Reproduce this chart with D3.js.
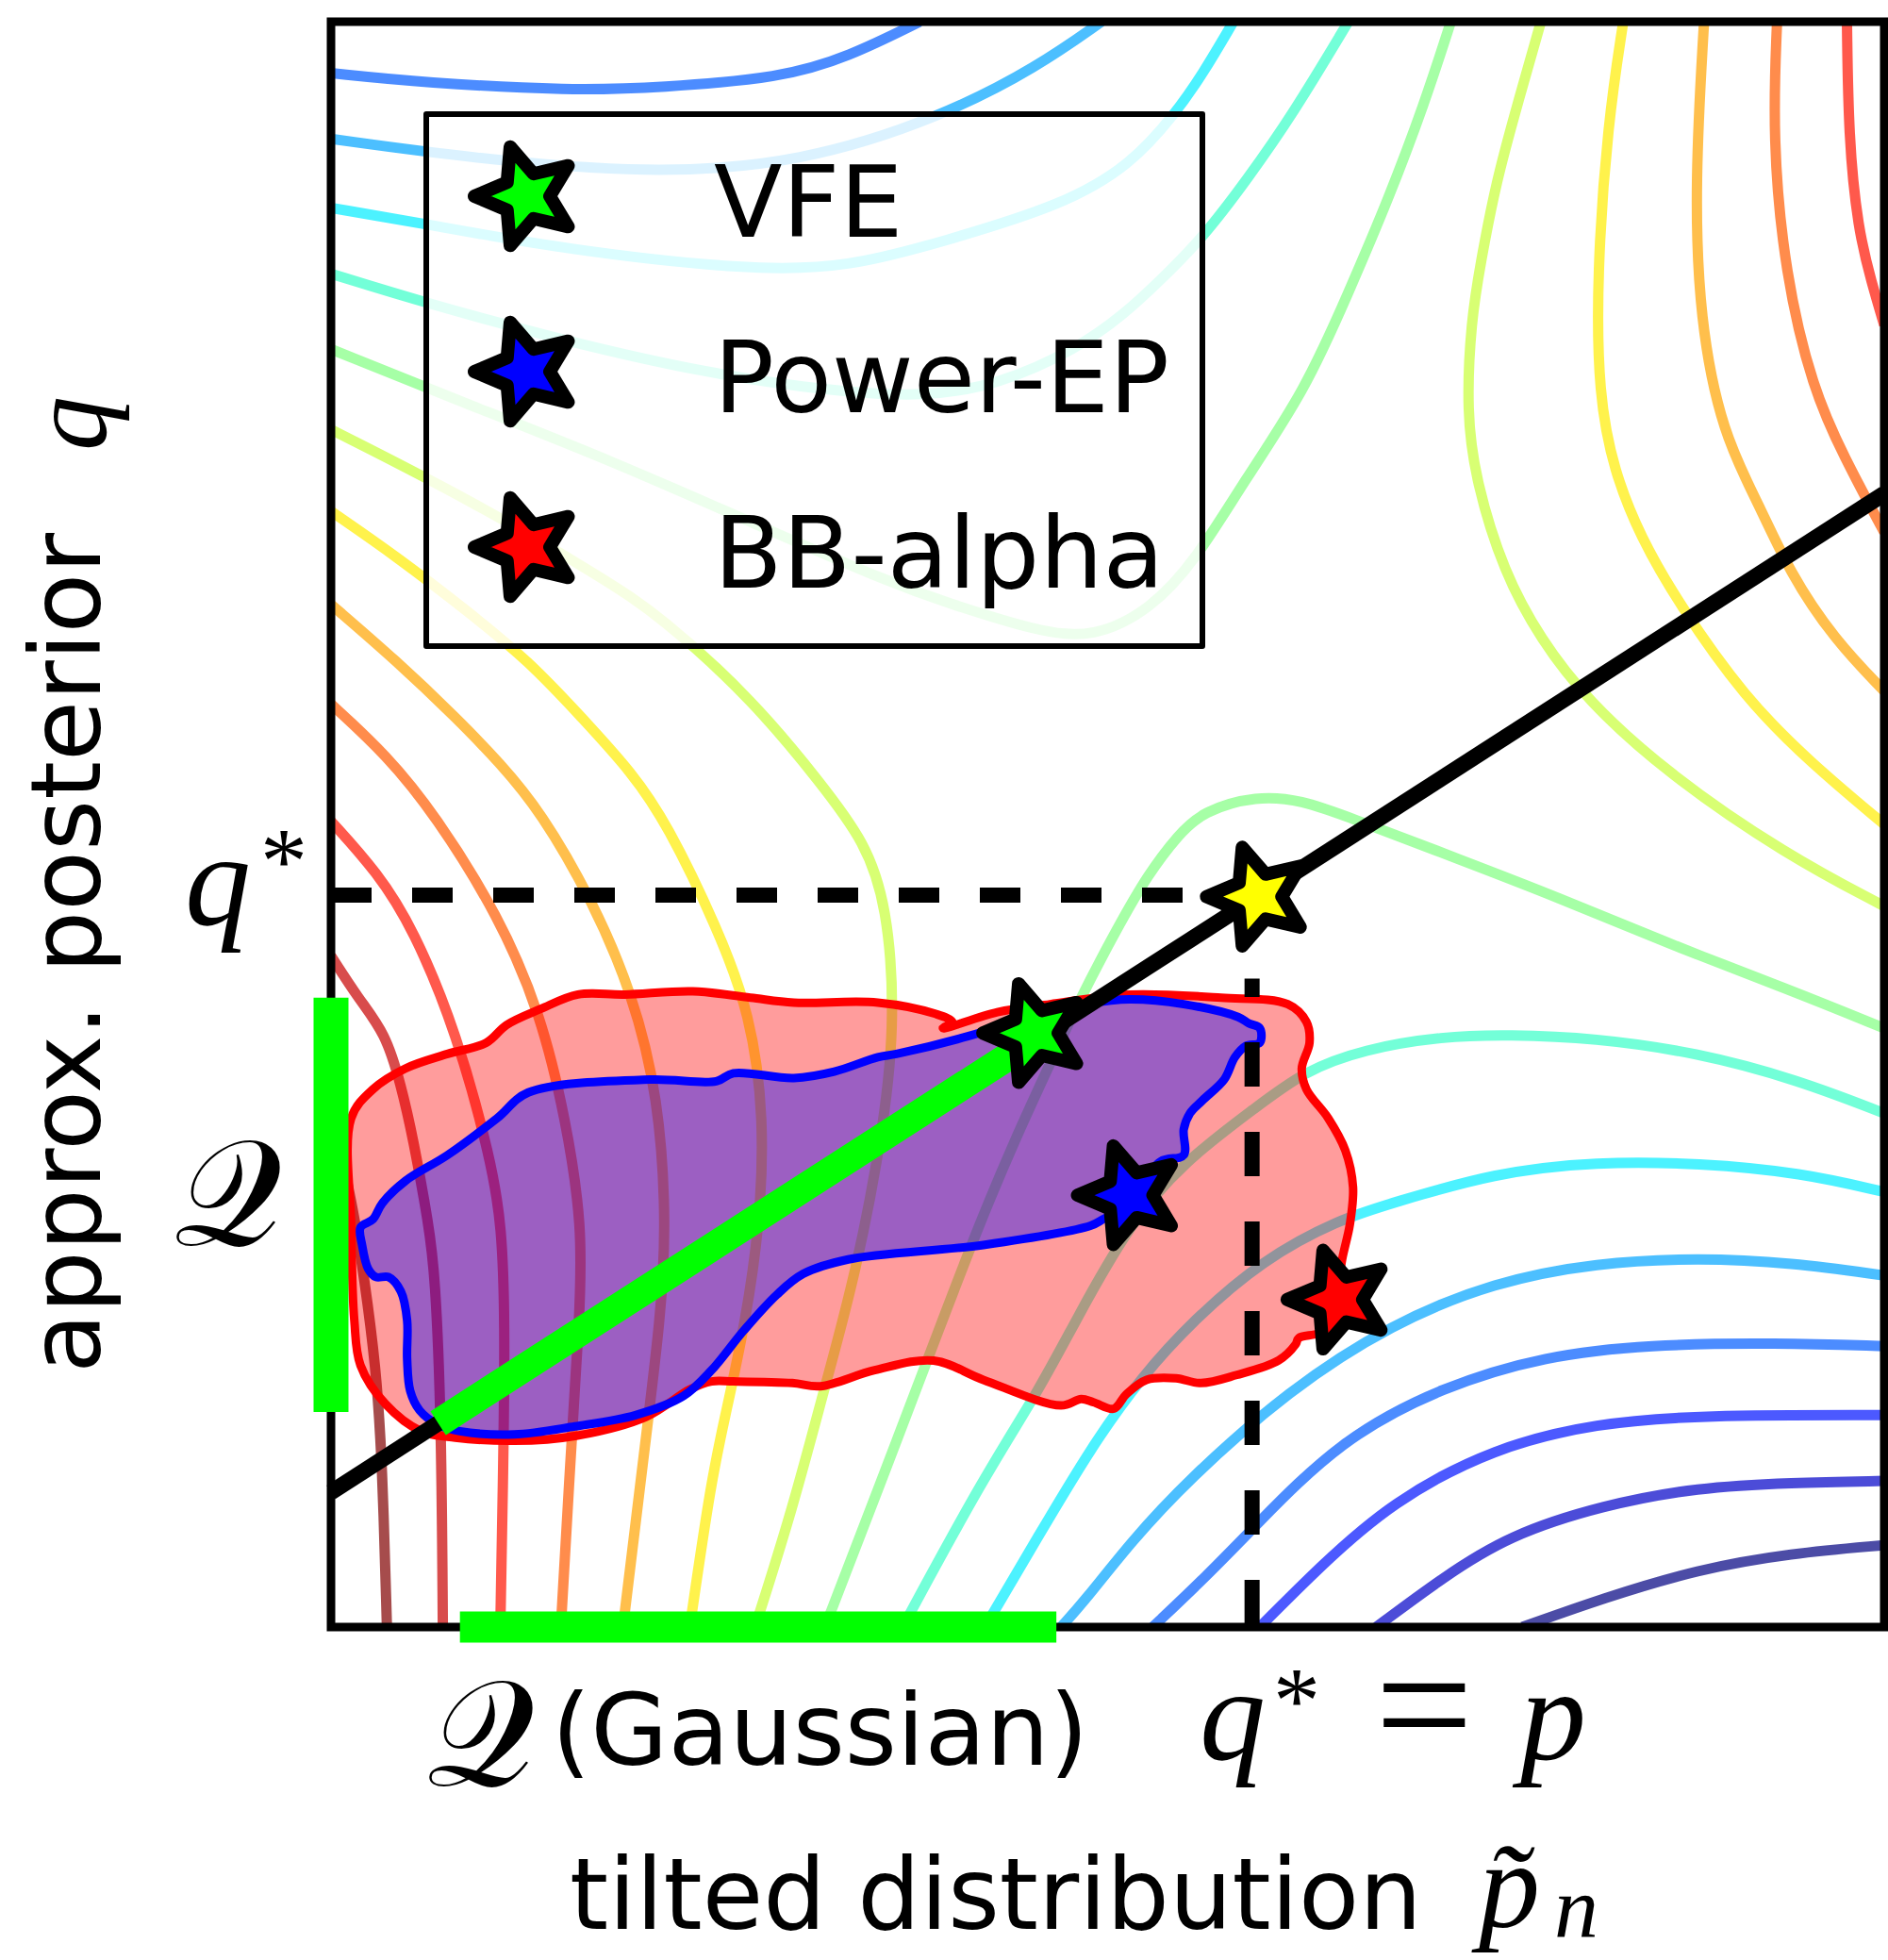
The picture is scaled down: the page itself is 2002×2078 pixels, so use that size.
<!DOCTYPE html>
<html><head><meta charset="utf-8">
<script src="https://cdn.jsdelivr.net/npm/d3@7"></script>
<style>body{margin:0;background:#fff}svg{display:block}</style>
</head><body>
<svg id="chart" width="2002" height="2078"></svg>
<script>
// ---------- data (plot units: 0..100 on both axes) ----------
const contourLevels = [0,1,2,3,4,5,6,7,8,9,10,11,12,13,14];

const c0  = [[76.7,0],[81.9,1.8],[88.0,3.6],[94.0,4.6],[100,5.1]];
const c1  = [[67.3,0],[71.6,3.1],[75.8,5.7],[81.9,7.6],[88.0,8.7],[94.0,9.0],[100,9.1]];
const c2  = [[59.8,0],[63.7,3.8],[68.3,7.8],[74.9,11.2],[81.5,12.7],[88.1,13.2],[100,13.2]];
const c3a = [[0,96.8],[6.0,96.2],[15.5,95.7],[21.2,95.9],[29.0,96.5],[33.3,97.8],[37.9,100]];
const c3b = [[52.9,0],[56.4,3.2],[59.4,6.2],[65.0,11.7],[71.6,15.0],[78.2,16.9],[84.8,17.6],[93.1,17.7],[100,17.5]];
const c4a = [[0,92.7],[9.0,91.5],[20.5,90.5],[30.3,91.2],[39.4,94.1],[45.5,97.2],[49.6,100]];
const c4b = [[47.0,0],[48.5,1.6],[51.5,5.3],[55.1,9.1],[61.7,14.8],[68.3,18.9],[74.9,21.5],[81.5,22.7],[88.1,23.0],[94.0,22.7],[100,21.9]];
const c5a = [[0,88.4],[6.1,87.4],[15.1,85.8],[27.1,84.5],[33.3,84.7],[39.4,86.3],[47.2,88.6],[51.5,91.1],[54.3,94.2],[56.1,96.7],[58.1,100]];
const c5b = [[42.1,0],[45.5,5.6],[49.0,11.3],[52.2,15.6],[55.5,19.1],[60.0,22.9],[64.9,25.4],[68.3,26.4],[74.9,28.3],[81.5,29.0],[88.1,28.9],[94.7,28.3],[100,27.1]];
const c6a = [[0,84.3],[6.0,82.5],[15.1,80.1],[24.2,78.1],[32.1,77.0],[38.2,76.6],[43.0,77.4],[48.0,79.6],[51.1,81.8],[53.4,83.9],[56.1,86.5],[59.0,90.2],[61.9,94.2],[65.5,100]];
const c6b = [[36.8,0],[42.0,9.3],[45.5,14.6],[48.0,19.2],[51.4,25.1],[54.9,29.0],[59.6,32.4],[62.6,34.6],[66.5,36.0],[71.6,36.8],[75.8,36.9],[81.3,36.7],[87.9,35.8],[94.4,34.1],[100,32.0]];
const c7a = [[0,79.6],[9.0,76.1],[18.2,72.6],[27.3,68.7],[36.4,64.9],[39.4,63.9],[45.5,62.0],[49.1,61.6],[52.8,63.4],[55.7,66.5],[58.8,71.4],[62.7,77.0],[65.5,83.1],[68.1,89.0],[70.4,94.9],[72.1,100]];
const c7b = [[31.8,0],[35.2,8.5],[39.4,19.2],[41.7,25.0],[44.0,30.3],[46.3,35.1],[48.2,39.1],[50.6,43.5],[52.6,46.9],[54.6,49.4],[56.1,50.8],[59.6,51.8],[62.5,51.5],[65.4,50.5],[72.7,47.8],[78.9,45.5],[86.0,42.6],[93.9,39.7],[100,37.3]];
const c8a = [[0,74.6],[9.0,70.2],[17.4,65.4],[21.2,63.0],[27.3,57.6],[31.5,52.6],[34.4,48.9],[35.8,44.9],[36.3,38.2],[35.7,31.7],[33.8,22.0],[31.8,15.0],[29.7,7.3],[27.3,0]];
const c8b = [[77.9,100],[76.4,94.9],[75.0,90.0],[74.0,84.9],[73.4,81.4],[73.1,75.7],[73.7,71.4],[75.5,65.7],[77.9,61.5],[80.8,57.8],[86.0,53.2],[93.7,48.1],[100,44.9]];
const c9a = [[0,69.5],[4.2,66.7],[8.9,63.2],[12.7,60.2],[16.2,56.6],[19.4,53.2],[21.6,50.1],[24.9,43.5],[27.0,38.2],[27.9,31.7],[27.6,25.0],[26.7,19.1],[25.4,13.2],[24.5,9.3],[23.1,0]];
const c9b = [[83.2,100],[82.2,93.7],[81.5,84.3],[81.6,76.7],[82.6,72.0],[84.3,67.9],[86.8,63.7],[91.0,57.9],[95.3,53.8],[100,50.0]];
const c10a = [[0,63.7],[4.2,60.2],[8.1,56.6],[10.9,53.8],[13.5,50.8],[16.8,45.3],[19.4,39.5],[21.1,33.0],[21.6,25.0],[21.2,19.1],[20.3,12.0],[18.8,0]];
const c10b = [[88.4,100],[87.8,90.0],[88.1,81.4],[89.6,74.3],[91.9,70.0],[93.9,65.7],[96.8,61.5],[100,58.3]];
const c11a = [[0,57.5],[3.6,54.3],[6.7,50.6],[10.8,44.3],[13.5,38.2],[15.1,31.7],[16.2,25.0],[16.0,19.1],[15.4,10.3],[14.8,0]];
const c11b = [[93.1,100],[92.8,92.8],[93.6,84.3],[95.4,77.1],[97.4,72.9],[100,68.2]];
const c12a = [[0,50.2],[3.0,47.0],[5.3,43.5],[8.1,37.0],[10.3,29.1],[11.0,25.0],[11.2,19.1],[11.1,10.3],[10.9,0]];
const c12b = [[97.6,100],[97.7,92.8],[98.3,87.1],[99.2,83.7],[100,81.1]];
const c13 = [[0,41.8],[1.8,39.1],[3.5,37.0],[4.5,33.8],[5.3,30.4],[6.3,25.0],[6.7,22.0],[7.1,13.2],[7.2,0]];
const c14 = [[0,32.0],[0.9,28.5],[1.6,25.0],[2.1,22.0],[2.9,16.2],[3.3,10.3],[3.6,0]];

const contourLines = [
  [0,c0],[1,c1],[2,c2],[3,c3a],[3,c3b],[4,c4a],[4,c4b],[5,c5a],[5,c5b],
  [6,c6a],[6,c6b],[7,c7a],[7,c7b],[8,c8a],[8,c8b],[9,c9a],[9,c9b],
  [10,c10a],[10,c10b],[11,c11a],[11,c11b],[12,c12a],[12,c12b],[13,c13],[14,c14]
];

const bbAlphaRegion = [[1.3,31.7],[2.7,33.5],[4.8,34.8],[7.5,35.7],[10.0,36.4],[11.3,37.5],[13.5,38.5],[15.9,39.4],[18.9,39.4],[23.3,39.6],[27.0,39.2],[29.8,38.9],[35.2,38.9],[38.9,38.2],[40.0,37.7],[39.4,37.3],[42.9,38.3],[46.3,38.8],[51.4,39.4],[57.3,39.2],[61.6,38.8],[62.8,37.7],[63.0,36.4],[62.5,34.8],[62.8,33.5],[64.2,31.7],[65.3,29.7],[65.8,27.4],[65.6,25.1],[65.1,22.9],[64.8,20.9],[64.3,18.8],[63.6,18.3],[62.3,18.0],[62.1,17.6],[61.0,16.6],[58.3,15.7],[56.0,15.2],[54.4,15.5],[52.5,15.4],[51.2,14.5],[50.4,13.6],[49.1,14.0],[48.3,14.2],[47.0,13.8],[42.0,15.4],[38.8,16.6],[35.0,16.0],[31.5,15.0],[29.7,15.2],[25.9,15.3],[24.5,15.3],[23.1,14.8],[20.3,13.1],[15.7,11.9],[11.8,11.6],[8.0,11.8],[5.8,12.2],[3.5,13.9],[1.9,16.3],[1.5,19.1],[1.3,25.0]];
const powerEPRegion = [[12.7,33.3],[10.7,31.7],[7.5,29.4],[4.8,27.8],[3.3,26.4],[2.7,25.4],[1.9,24.9],[2.0,23.8],[2.4,22.3],[2.9,21.8],[3.7,21.8],[4.5,20.9],[4.9,19.1],[4.9,16.7],[5.1,14.7],[5.7,13.5],[6.9,12.6],[8.3,12.2],[11.8,12.0],[15.7,12.5],[19.6,13.2],[22.7,14.4],[24.5,16.0],[26.6,18.5],[28.7,20.7],[30.4,22.0],[33.3,22.9],[42.0,23.8],[48.9,25.0],[49.7,25.4],[50.9,26.1],[53.4,29.0],[54.9,29.4],[54.9,31.0],[55.3,32.0],[56.1,32.8],[57.5,34.1],[58.2,35.5],[58.9,36.2],[59.8,36.4],[59.8,37.3],[59.1,37.6],[58.4,38.0],[54.9,38.8],[51.4,39.1],[48.5,38.8],[45.5,38.2],[41.0,36.8],[36.4,35.7],[35.2,35.5],[32.4,34.6],[29.8,34.2],[25.9,34.5],[24.8,34.0],[20.5,34.1]];

const methods = ["VFE","Power-EP","BB-alpha"];
const methodColors = ["#00ff00","#0000ff","#ff0000"];
const methodPoints = [[45.3,37.0],[51.4,26.9],[64.9,20.4]];
const optimumPoint = [59.7,45.5];
const manifoldLine = [[0,8.4],[100,70.6]];
const gaussianSegment = [[6.9,12.7],[45.3,36.6]];
const gaussianRangeX = [8.3,46.7];
const gaussianRangeY = [13.4,39.2];
const qStarLevelY = 45.6;   // horizontal dashed at q*
const qStarX = 59.3;        // vertical dashed at q* = p
const qStarVTop = 40.4;

// ---------- drawing ----------
const svg = d3.select("#chart");
svg.append("rect").attr("width",2002).attr("height",2078).attr("fill","#fff");
const L = 351, R = 1998, T = 23, B = 1725;
const x = d3.scaleLinear().domain([0,100]).range([L,R]);
const y = d3.scaleLinear().domain([0,100]).range([B,T]);

const jet = t => {
  const f = v => Math.max(0, Math.min(1, 1.5 - Math.abs(v)));
  return d3.rgb(255*f(4*t-3), 255*f(4*t-2), 255*f(4*t-1)).formatHex();
};
const levelT = d3.scaleLinear().domain([d3.min(contourLevels), d3.max(contourLevels)]).range([0,1]);

svg.append("clipPath").attr("id","plotclip").append("rect")
  .attr("x",L).attr("y",T).attr("width",R-L).attr("height",B-T);

const lineGen = d3.line().x(d=>x(d[0])).y(d=>y(d[1])).curve(d3.curveBasis);
const gC = svg.append("g").attr("clip-path","url(#plotclip)");
gC.selectAll("path.contour").data(contourLines).join("path")
  .attr("class","contour")
  .attr("d", d=>lineGen(d[1]))
  .attr("fill","none")
  .attr("stroke", d=>jet(levelT(d[0])))
  .attr("stroke-opacity",0.7)
  .attr("stroke-width",11);

const areaGen = d3.line().x(d=>x(d[0])).y(d=>y(d[1])).curve(d3.curveCatmullRomClosed.alpha(0.5));
const gR = svg.append("g").attr("clip-path","url(#plotclip)");
gR.append("path").attr("d", areaGen(bbAlphaRegion)).attr("fill","#ff0000").attr("fill-opacity",0.39).attr("stroke","none");
gR.append("path").attr("d", areaGen(powerEPRegion)).attr("fill","#0000ff").attr("fill-opacity",0.39).attr("stroke","none");
gR.append("path").attr("d", areaGen(bbAlphaRegion)).attr("fill","none").attr("stroke","#ff0000").attr("stroke-width",9).attr("stroke-linejoin","round");
gR.append("path").attr("d", areaGen(powerEPRegion)).attr("fill","none").attr("stroke","#0000ff").attr("stroke-width",9).attr("stroke-linejoin","round");

// manifold line and Gaussian family segment
const straight = d3.line().x(d=>x(d[0])).y(d=>y(d[1]));
svg.append("path").attr("d", straight(manifoldLine)).attr("stroke","#000").attr("stroke-width",17).attr("fill","none");
svg.append("path").attr("d", straight(gaussianSegment)).attr("stroke","#00ff00").attr("stroke-width",30).attr("fill","none");

// dashed lines
svg.append("path").attr("d", straight([[0,qStarLevelY],[optimumPoint[0],qStarLevelY]]))
  .attr("stroke","#000").attr("stroke-width",16).attr("stroke-dasharray","43 43").attr("fill","none");
svg.append("path").attr("d", straight([[qStarX,0],[qStarX,qStarVTop]]))
  .attr("stroke","#000").attr("stroke-width",16).attr("stroke-dasharray","47 48").attr("stroke-dashoffset",-3).attr("fill","none");

// frame
svg.append("rect").attr("x",L).attr("y",T).attr("width",R-L).attr("height",B-T)
  .attr("fill","none").attr("stroke","#000").attr("stroke-width",9);

// green ranges on axes
svg.append("path").attr("d", straight([[gaussianRangeX[0],0],[gaussianRangeX[1],0]])).attr("stroke","#00ff00").attr("stroke-width",33).attr("fill","none");
svg.append("path").attr("d", straight([[0,gaussianRangeY[0]],[0,gaussianRangeY[1]]])).attr("stroke","#00ff00").attr("stroke-width",37).attr("fill","none");

// stars
function starPath(Ro, Ri){
  const pts = d3.range(10).map(i => [(270 + 36*i)*Math.PI/180, i%2===0 ? Ro : Ri]);
  return d3.lineRadial().angle(d=>d[0]).radius(d=>d[1]).curve(d3.curveLinearClosed)(pts);
}
const STAR = starPath(55, 25);
const allStars = methodPoints.map((p,i)=>({p, c:methodColors[i]})).concat([{p:optimumPoint, c:"#ffff00"}]);
svg.selectAll("path.star").data(allStars).join("path").attr("class","star")
  .attr("d", STAR)
  .attr("transform", d=>`translate(${x(d.p[0])},${y(d.p[1])})`)
  .attr("fill", d=>d.c).attr("stroke","#000").attr("stroke-width",14).attr("stroke-linejoin","round");

// legend
const lg = svg.append("g");
lg.append("rect").attr("x",452).attr("y",121).attr("width",823).attr("height",564)
  .attr("fill","#fff").attr("fill-opacity",0.8).attr("stroke","#000").attr("stroke-width",6).attr("stroke-linejoin","round");
methods.forEach((m,i)=>{
  const cy = 208 + i*186;
  lg.append("path").attr("d",STAR).attr("transform",`translate(558,${cy})`)
    .attr("fill",methodColors[i]).attr("stroke","#000").attr("stroke-width",14).attr("stroke-linejoin","round");
  lg.append("text").attr("x",757).attr("y",cy+43).text(m)
    .attr("font-family","DejaVu Sans").attr("font-size",106).attr("fill","#000");
});

// labels
const sans = "DejaVu Sans";
const mathF = "Liberation Serif";
const scriptF = "DejaVu Serif, DejaVu Sans, Noto Sans, serif";
function txt(xp, yp, s, fam, size, italic, anchor){
  return svg.append("text").attr("x",xp).attr("y",yp).text(s)
    .attr("font-family",fam).attr("font-size",size)
    .attr("font-style", italic ? "italic" : "normal")
    .attr("text-anchor", anchor || "start").attr("fill","#000");
}
// y axis label
svg.append("text").attr("transform","translate(106,1456) rotate(-90)")
  .attr("font-family",sans).attr("font-size",104).attr("fill","#000")
  .text("approx. posterior");
svg.append("text").attr("transform","translate(112,478) rotate(-90)")
  .attr("font-family",mathF).attr("font-style","italic").attr("font-size",116).attr("fill","#000")
  .text("q");

// q* on y axis
txt(196, 980, "q", mathF, 140, true);
txt(276, 946, "*", mathF, 100, false);
// calligraphic Q on y axis
txt(184, 1320, "𝒬", scriptF, 160, false);

// x axis annotations
txt(452, 1893, "𝒬", scriptF, 160, false);
txt(585, 1871, "(Gaussian)", sans, 106, false);
txt(1272, 1865, "q", mathF, 140, true);
txt(1350, 1836, "*", mathF, 100, false);
txt(1458, 1869, "=", mathF, 185, false);
txt(1612, 1865, "p", mathF, 140, true);

// x axis label
txt(604, 2045, "tilted distribution", sans, 105, false);
txt(1568, 2042, "p\u0303", mathF, 130, true);
txt(1648, 2054, "n", mathF, 94, true);
</script>
</body></html>
